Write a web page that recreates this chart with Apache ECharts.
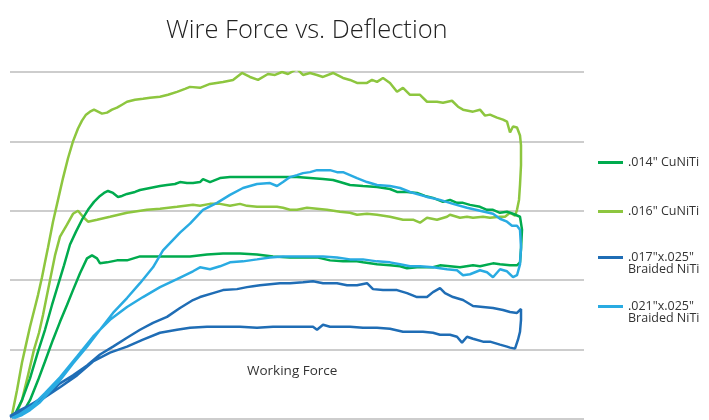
<!DOCTYPE html>
<html>
<head>
<meta charset="utf-8">
<title>Wire Force vs. Deflection</title>
<script src="https://cdn.jsdelivr.net/npm/echarts@6/dist/echarts.min.js"></script>
<style>
  html, body { margin: 0; padding: 0; background: #fff; }
  #chart { width: 709px; height: 420px; }
</style>
</head>
<body>
<div id="chart"></div>
<script>
// deflection (mm) vs force (gf), loading curve then unloading curve
var wireNames = ['.014" CuNiTi', '.016" CuNiTi', '.017"x.025" Braided NiTi', '.021"x.025" Braided NiTi'];
var wireColors = ['#00ab4e', '#8dc63f', '#1f6db5', '#29abe2'];

var cuniti016 = [
  [0.02,4],[0.07,29],[0.12,57],[0.16,75],[0.20,93],[0.25,113],[0.28,125],[0.32,143],[0.35,158],[0.38,173],
  [0.43,199],[0.48,221],[0.53,243],[0.58,263],[0.63,280],[0.68,293],[0.72,301],[0.76,307],[0.80,310],[0.84,312],
  [0.88,310],[0.92,308],[0.97,309],[1.02,312],[1.07,314],[1.12,317],[1.17,320],[1.25,322],[1.33,323],[1.40,324],
  [1.50,325],[1.58,327],[1.67,330],[1.75,333],[1.80,335],[1.90,334],[2.00,338],[2.13,340],[2.23,342],[2.32,349],
  [2.40,345],[2.48,342],[2.58,348],[2.65,347],[2.72,350],[2.78,348],[2.87,353],[2.93,347],[3.00,349],[3.07,347],
  [3.13,345],[3.23,349],[3.33,344],[3.40,342],[3.47,339],[3.57,339],[3.62,342],[3.67,340],[3.73,344],[3.80,339],
  [3.87,330],[3.93,334],[4.00,327],[4.10,327],[4.17,320],[4.27,320],[4.33,319],[4.42,321],[4.48,315],[4.53,312],
  [4.63,310],[4.70,312],[4.75,306],[4.80,307],[4.87,304],[4.93,302],[4.97,300],[5.00,289],[5.03,295],[5.07,294],
  [5.10,286],[5.11,276],[5.11,256],[5.10,236],[5.09,221],[5.07,211],[5.05,205],
  [5.00,208],[4.95,204],[4.90,204],[4.80,203],[4.73,204],[4.63,203],[4.57,204],[4.50,203],[4.40,206],[4.37,204],
  [4.27,201],[4.17,203],[4.10,198],[4.03,201],[3.93,201],[3.80,204],[3.67,206],[3.57,207],[3.47,206],[3.40,208],
  [3.30,209],[3.17,211],[3.07,212],[2.97,213],[2.87,211],[2.80,211],[2.73,213],[2.67,214],[2.53,214],[2.47,214],
  [2.37,215],[2.30,217],[2.20,215],[2.10,217],[2.00,217],[1.90,215],[1.83,216],[1.67,214],[1.50,212],[1.37,211],
  [1.17,208],[1.00,204],[0.87,201],[0.78,199],[0.73,204],[0.68,210],[0.63,207],[0.57,196],[0.50,184],[0.45,165],
  [0.41,145],[0.37,125],[0.33,105],[0.29,87],[0.24,70],[0.18,44],[0.12,19],[0.06,5]
];

var cuniti014 = [
  [0.04,3],[0.12,19],[0.20,41],[0.28,68],[0.35,90],[0.42,115],[0.48,135],[0.54,155],[0.60,176],[0.66,189],
  [0.72,201],[0.78,211],[0.84,219],[0.90,225],[0.94,228],[0.98,230],[1.03,228],[1.08,224],[1.12,225],[1.17,227],
  [1.25,229],[1.30,231],[1.40,233],[1.50,235],[1.57,236],[1.65,237],[1.70,239],[1.77,238],[1.83,238],[1.90,239],
  [1.93,242],[2.00,239],[2.10,243],[2.20,244],[2.33,244],[2.47,244],[2.60,244],[2.73,244],[2.87,244],[3.00,243],
  [3.13,242],[3.23,241],[3.30,239],[3.40,236],[3.53,235],[3.67,234],[3.80,232],[3.87,229],[3.97,229],[4.07,228],
  [4.15,225],[4.23,223],[4.33,219],[4.40,221],[4.47,218],[4.53,218],[4.60,216],[4.70,214],[4.77,211],[4.83,211],
  [4.90,208],[4.97,209],[5.03,207],[5.10,204],[5.12,191],[5.11,171],[5.10,158],[5.07,155],
  [5.00,155],[4.90,156],[4.83,157],[4.70,154],[4.63,155],[4.50,153],[4.40,154],[4.30,155],[4.23,153],[4.07,153],
  [3.97,152],[3.90,154],[3.80,155],[3.67,156],[3.53,158],[3.47,159],[3.33,159],[3.20,160],[3.07,163],[2.93,163],
  [2.80,163],[2.63,164],[2.47,166],[2.30,167],[2.13,167],[1.97,166],[1.80,164],[1.60,164],[1.43,164],[1.30,164],
  [1.17,160],[1.07,160],[0.97,158],[0.90,157],[0.87,162],[0.82,165],[0.77,162],[0.70,147],[0.63,130],[0.57,115],
  [0.50,98],[0.43,80],[0.35,58],[0.28,39],[0.20,19],[0.12,5]
];

var braided017 = [
  [0.00,3],[0.10,9],[0.20,14],[0.30,20],[0.40,27],[0.50,36],[0.63,44],[0.77,54],[0.90,65],[1.03,73],
  [1.17,82],[1.30,90],[1.43,97],[1.57,103],[1.70,112],[1.83,120],[1.90,123],[2.03,127],[2.13,130],[2.27,131],
  [2.37,133],[2.43,134],[2.50,135],[2.60,136],[2.70,137],[2.80,137],[2.93,138],[3.03,139],[3.13,137],[3.27,137],
  [3.37,135],[3.47,135],[3.57,137],[3.63,131],[3.73,130],[3.87,130],[3.97,127],[4.07,123],[4.17,123],[4.23,128],
  [4.30,132],[4.35,127],[4.43,123],[4.53,120],[4.63,114],[4.73,113],[4.83,112],[4.93,110],[5.00,108],[5.07,107],
  [5.11,111],[5.11,100],[5.10,88],[5.08,80],[5.05,71],
  [5.00,72],[4.97,73],[4.90,75],[4.80,78],[4.73,78],[4.63,81],[4.57,83],[4.52,77],[4.47,83],[4.40,85],
  [4.30,85],[4.23,87],[4.13,88],[4.03,88],[3.93,88],[3.80,91],[3.67,92],[3.53,92],[3.40,93],[3.20,93],
  [3.13,95],[3.07,90],[3.03,93],[2.80,93],[2.63,93],[2.47,92],[2.30,93],[2.13,93],[1.97,93],[1.80,92],
  [1.67,90],[1.50,87],[1.33,80],[1.17,73],[1.00,67],[0.83,58],[0.67,44],[0.50,32],[0.35,22],[0.20,12],
  [0.08,6],[0.00,2]
];

var braided021 = [
  [0.04,1],[0.12,4],[0.20,9],[0.30,17],[0.40,28],[0.50,39],[0.63,56],[0.77,73],[0.90,90],[1.03,107],
  [1.17,122],[1.30,137],[1.43,153],[1.53,170],[1.70,188],[1.80,197],[1.93,211],[2.07,218],[2.20,226],[2.33,233],
  [2.47,237],[2.60,238],[2.67,235],[2.73,239],[2.80,244],[2.87,246],[2.93,248],[3.00,249],[3.07,251],[3.20,251],
  [3.27,249],[3.33,249],[3.40,246],[3.47,243],[3.57,239],[3.67,236],[3.80,235],[3.90,233],[4.00,229],[4.17,224],
  [4.30,221],[4.43,217],[4.57,213],[4.70,210],[4.83,207],[4.90,202],[4.97,199],[5.02,195],[5.07,195],[5.10,191],
  [5.11,173],[5.10,156],[5.07,145],[5.03,143],
  [4.97,149],[4.90,151],[4.83,143],[4.77,148],[4.70,150],[4.60,146],[4.53,145],[4.47,150],[4.37,151],[4.23,153],
  [4.10,154],[4.00,154],[3.90,156],[3.80,158],[3.67,159],[3.53,161],[3.40,161],[3.27,163],[3.13,164],[3.00,164],
  [2.87,164],[2.73,164],[2.60,163],[2.47,161],[2.33,159],[2.20,158],[2.10,154],[2.00,151],[1.90,153],[1.83,149],
  [1.67,141],[1.50,133],[1.33,123],[1.17,113],[1.00,100],[0.83,83],[0.67,63],[0.50,42],[0.35,26],[0.22,13],
  [0.10,5],[0.02,1]
];

var forceTicks = [0, 70, 140, 210, 280, 350];
var wireData = [cuniti014, cuniti016, braided017, braided021];
var drawOrder = [1, 0, 2, 3];
var legendTops = [151, 200, 246, 295];

var chart = echarts.init(document.getElementById('chart'), null, { renderer: 'canvas' });

var series = drawOrder.map(function (i) {
  return {
    name: wireNames[i],
    type: 'line',
    data: wireData[i],
    showSymbol: false,
    symbol: 'none',
    smooth: false,
    lineStyle: { width: 2.5, color: wireColors[i] },
    itemStyle: { color: wireColors[i] },
    emphasis: { disabled: true },
    animation: false
  };
});

var legends = wireNames.map(function (name, i) {
  return {
    data: [name],
    left: 593,
    top: legendTops[i],
    icon: 'rect',
    itemWidth: 25,
    itemHeight: 3,
    selectedMode: false,
    formatter: function (n) { return n.replace(' Braided NiTi', ''); },
    textStyle: { fontFamily: 'Open Sans', fontSize: 12.5, color: '#333' }
  };
});

chart.setOption({
  backgroundColor: '#fff',
  color: wireColors,
  title: {
    text: 'Wire Force vs. Deflection',
    left: 166,
    top: 18,
    padding: 0,
    textStyle: { fontFamily: 'Open Sans', fontWeight: 300, fontSize: 25.5, color: '#222' }
  },
  legend: legends,
  grid: { left: 10, right: 125, top: 72, bottom: 1, containLabel: false },
  xAxis: {
    type: 'value',
    min: 0,
    max: 5.74,
    axisLine: { show: false },
    axisTick: { show: false },
    axisLabel: { show: false },
    splitLine: { show: false }
  },
  yAxis: {
    type: 'value',
    min: forceTicks[0],
    max: forceTicks[forceTicks.length - 1],
    interval: 70,
    axisLine: { show: false },
    axisTick: { show: false },
    axisLabel: { show: false },
    splitLine: { show: true, lineStyle: { color: '#bdbdbd', width: 1.5 } }
  },
  graphic: [
    { type: 'text', left: 628, top: 263, style: { text: 'Braided NiTi', fontFamily: 'Open Sans', fontSize: 12.5, fill: '#333' } },
    { type: 'text', left: 628, top: 312, style: { text: 'Braided NiTi', fontFamily: 'Open Sans', fontSize: 12.5, fill: '#333' } },
    { type: 'text', left: 247, top: 364, style: { text: 'Working Force', fontFamily: 'Open Sans', fontSize: 13.5, fill: '#333' } }
  ],
  series: series
});
</script>
</body>
</html>
